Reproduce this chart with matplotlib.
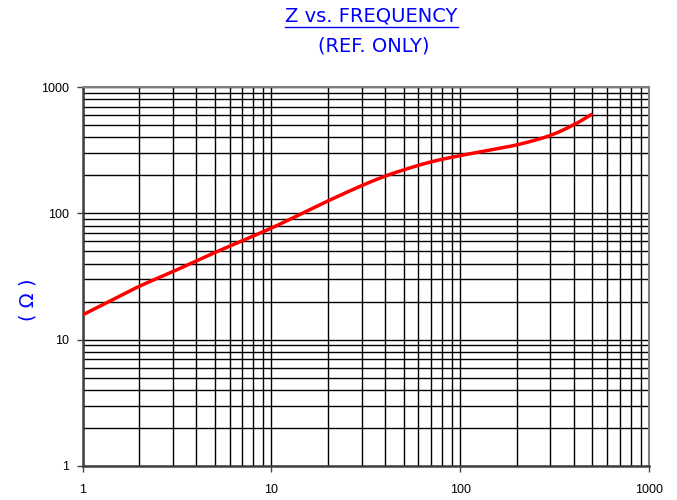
import matplotlib
matplotlib.use("Agg")
import matplotlib.pyplot as plt
import numpy as np
from matplotlib.lines import Line2D
from matplotlib.ticker import LogLocator, FixedLocator, NullFormatter

# data
freq = [1, 2, 3, 4, 5, 10, 20, 30, 40, 50, 70, 100, 200, 300, 400, 500]
imp = [15.7, 26.6, 34.5, 42, 48.9, 76.2, 126, 166, 198, 221, 257, 287, 347, 410, 501, 612]

x_ticks = [1, 10, 100, 1000]
y_ticks = [1, 10, 100, 1000]
x_tick_labels = ["1", "10", "100", "1000"]
y_tick_labels = ["1", "10", "100", "1000"]

blue = "#0000ff"

fig = plt.figure(figsize=(6.77, 5.0), dpi=100)
ax = fig.add_axes([0.122, 0.068, 0.837, 0.758])

# smooth the curve in log space
lx = np.log10(freq)
ly = np.log10(imp)
xs = np.linspace(lx[0], lx[-1], 300)
ys = np.interp(xs, lx, ly)
k = np.ones(15) / 15
pad = np.concatenate([np.full(7, ys[0]), ys, np.full(7, ys[-1])])
ys_s = np.convolve(pad, k, mode="valid")
ys_s[:10] = ys[:10]
ys_s[-10:] = ys[-10:]

ax.plot(10 ** xs, 10 ** ys_s, color="red", lw=2.5, solid_capstyle="butt", zorder=3)

ax.set_xscale("log")
ax.set_yscale("log")
ax.set_xlim(1, 1000)
ax.set_ylim(1, 1000)

ax.xaxis.set_major_locator(FixedLocator(x_ticks))
ax.yaxis.set_major_locator(FixedLocator(y_ticks))
ax.set_xticklabels(x_tick_labels)
ax.set_yticklabels(y_tick_labels)
ax.xaxis.set_minor_locator(LogLocator(base=10, subs=np.arange(2, 10), numticks=20))
ax.yaxis.set_minor_locator(LogLocator(base=10, subs=np.arange(2, 10), numticks=20))
ax.xaxis.set_minor_formatter(NullFormatter())
ax.yaxis.set_minor_formatter(NullFormatter())

ax.grid(True, which="both", color="black", lw=1.0)
ax.tick_params(which="major", direction="out", length=4, width=1, color="#444444",
               labelsize=9, pad=6)
ax.tick_params(axis="x", which="major", pad=9)
ax.tick_params(which="minor", length=0)
for lab in ax.get_xticklabels() + ax.get_yticklabels():
    lab.set_family("Liberation Sans")

for s in ["top", "right"]:
    ax.spines[s].set_color("#808080")
    ax.spines[s].set_linewidth(1.5)
for s in ["left", "bottom"]:
    ax.spines[s].set_color("#404040")
    ax.spines[s].set_linewidth(1.8)

t1 = fig.text(0.549, 0.968, "Z vs. FREQUENCY", color=blue, fontsize=14,
              ha="center", va="center", family="DejaVu Sans")
fig.text(0.552, 0.908, "(REF. ONLY)", color=blue, fontsize=14,
         ha="center", va="center", family="DejaVu Sans")
fig.text(0.042, 0.40, "( \u03a9 )", color=blue, fontsize=14, rotation=90,
         ha="center", va="center", family="DejaVu Sans")

# underline under the title
fig.canvas.draw()
bb = t1.get_window_extent().transformed(fig.transFigure.inverted())
fig.add_artist(Line2D([bb.x0, bb.x1], [bb.y0 - 0.004, bb.y0 - 0.004],
                      color=blue, lw=1.0, transform=fig.transFigure))

fig.savefig("out.png", dpi=100)
